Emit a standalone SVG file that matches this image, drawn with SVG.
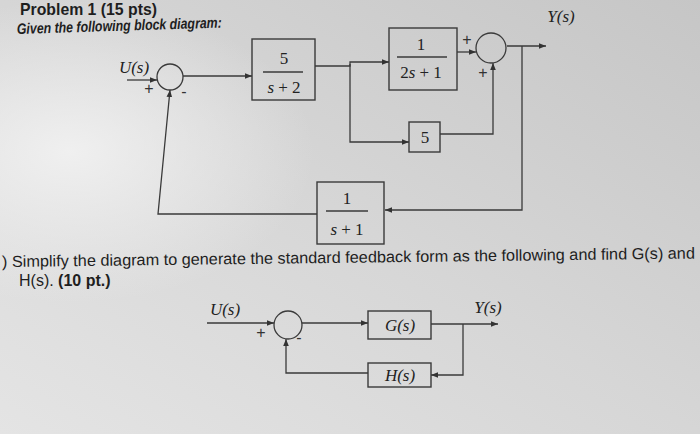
<svg xmlns="http://www.w3.org/2000/svg" width="700" height="434" viewBox="0 0 700 434">
<defs>
<linearGradient id="bg" x1="1" y1="0" x2="0" y2="1">
<stop offset="0" stop-color="#c6c6c6"/>
<stop offset="0.5" stop-color="#d6d6d6"/>
<stop offset="1" stop-color="#e4e4e4"/>
</linearGradient>
<radialGradient id="hl" cx="0.1" cy="0.35" r="0.35">
<stop offset="0" stop-color="#f2f2f2" stop-opacity="0.9"/>
<stop offset="1" stop-color="#f2f2f2" stop-opacity="0"/>
</radialGradient>
<marker id="ar" viewBox="0 0 10 10" refX="10" refY="5" markerWidth="7" markerHeight="7" orient="auto" markerUnits="userSpaceOnUse">
<path d="M0,1 L10,5 L0,9 z" fill="#333"/>
</marker>
</defs>
<style>
.ln{fill:none;stroke:#3a3a3a;stroke-width:1.3}
.bx{fill:none;stroke:#3a3a3a;stroke-width:1.4}
.m{font-family:"Liberation Serif",serif;font-style:italic;font-size:17px;fill:#222;text-anchor:middle}
.n{font-family:"Liberation Serif",serif;font-size:17px;fill:#222;text-anchor:middle}
.sg{font-family:"Liberation Sans",sans-serif;font-size:16px;fill:#333;text-anchor:middle}
.t{font-family:"Liberation Sans",sans-serif;fill:#1e1e1e}
</style>
<rect width="700" height="434" fill="url(#bg)"/>
<rect width="700" height="434" fill="url(#hl)"/>

<text class="t" x="20" y="15" font-size="17" font-weight="bold" textLength="137" lengthAdjust="spacingAndGlyphs">Problem 1 (15 pts)</text>
<text class="t" x="17" y="34" font-size="15" font-style="italic" font-weight="bold" transform="rotate(-1.8 17 34)" textLength="205" lengthAdjust="spacingAndGlyphs">Given the following block diagram:</text>

<g id="connectors">
<path class="ln" d="M127,80 H157" marker-end="url(#ar)"/>
<path class="ln" d="M183,76 H252" marker-end="url(#ar)"/>
<path class="ln" d="M315,66 H350 V62 H389" marker-end="url(#ar)"/>
<path class="ln" d="M350,64 V142 H409" marker-end="url(#ar)"/>
<path class="ln" d="M440,134 H493 V63" marker-end="url(#ar)"/>
<path class="ln" d="M457,52 H476" marker-end="url(#ar)"/>
<path class="ln" d="M507,46 H546" marker-end="url(#ar)"/>
<path class="ln" d="M522,46 V210 H385" marker-end="url(#ar)"/>
<path class="ln" d="M317,214 H158 L170,90" marker-end="url(#ar)"/>
<path class="ln" d="M207,323 H274" marker-end="url(#ar)"/>
<path class="ln" d="M302,323 H368" marker-end="url(#ar)"/>
<path class="ln" d="M431,324 H498" marker-end="url(#ar)"/>
<path class="ln" d="M463,324 V375 H431" marker-end="url(#ar)"/>
<path class="ln" d="M368,373 H286 V339" marker-end="url(#ar)"/>
</g>

<g id="sum1">
<circle class="ln" cx="170" cy="77" r="13"/>
<text class="m" x="134" y="73">U(s)</text>
<text class="sg" x="149" y="94">+</text>
<text class="sg" x="184" y="97">-</text>
</g>
<g id="block1">
<rect class="bx" x="252" y="39" width="63" height="61"/>
<text class="n" x="284" y="64">5</text>
<line class="ln" x1="263" y1="72" x2="303" y2="72"/>
<text class="m" x="284" y="93"><tspan>s</tspan><tspan font-style="normal"> + 2</tspan></text>
</g>
<g id="block2">
<rect class="bx" x="389" y="28" width="68" height="62"/>
<text class="n" x="421" y="50">1</text>
<line class="ln" x1="397" y1="57" x2="447" y2="57"/>
<text class="m" x="421" y="78"><tspan font-style="normal">2</tspan><tspan>s</tspan><tspan font-style="normal"> + 1</tspan></text>
</g>
<g id="sum2">
<circle class="ln" cx="491" cy="48" r="15"/>
<text class="sg" x="467" y="45">+</text>
<text class="sg" x="483" y="78">+</text>
<text class="m" x="561" y="22">Y(s)</text>
</g>
<g id="block5">
<rect class="bx" x="409" y="122" width="31" height="30"/>
<text class="n" x="425" y="143">5</text>
</g>
<g id="block3">
<rect class="bx" x="317" y="182" width="67" height="62"/>
<text class="n" x="347" y="204">1</text>
<line class="ln" x1="326" y1="211" x2="368" y2="211"/>
<text class="m" x="347" y="235"><tspan>s</tspan><tspan font-style="normal"> + 1</tspan></text>
</g>

<text class="t" x="2" y="267" font-size="16" transform="rotate(-0.7 2 267)" textLength="693" lengthAdjust="spacingAndGlyphs">)  Simplify the diagram to generate the standard feedback form as the following and find G(s) and</text>
<text class="t" x="19" y="286" font-size="16">H(s).  <tspan font-weight="bold">(10 pt.)</tspan></text>

<g id="sumB">
<circle class="ln" cx="288" cy="325" r="14"/>
<text class="m" x="225" y="315">U(s)</text>
<text class="sg" x="261" y="338">+</text>
<text class="sg" x="299" y="343">-</text>
<text class="m" x="488" y="313">Y(s)</text>
</g>
<g id="G">
<rect class="bx" x="368" y="311" width="63" height="28"/>
<text class="m" x="400" y="331">G(s)</text>
</g>
<g id="H">
<rect class="bx" x="368" y="363" width="63" height="24"/>
<text class="m" x="400" y="381">H(s)</text>
</g>
</svg>
